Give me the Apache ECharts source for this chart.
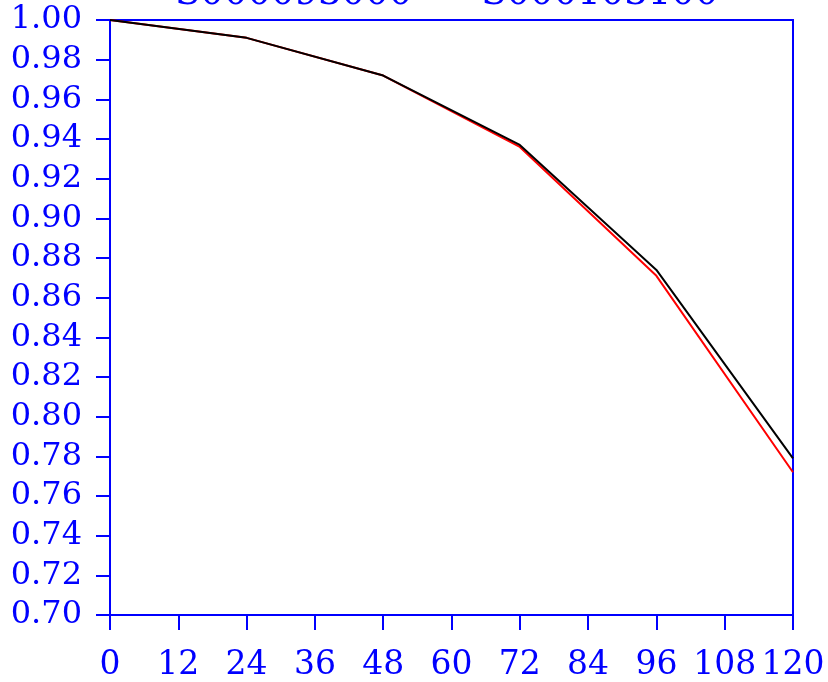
<!DOCTYPE html>
<html>
<head>
<meta charset="utf-8">
<script src="https://cdn.jsdelivr.net/npm/echarts@6/dist/echarts.min.js"></script>
<style>html,body{margin:0;padding:0;background:#fff}#c{width:828px;height:682px}</style>
</head>
<body>
<div id="c"></div>
<script>
const months = [0, 24, 48, 72, 96, 120];
const seriesNames = ['S000093000', 'S000103100'];
const redValues = [1.000, 0.991, 0.972, 0.936, 0.871, 0.772];
const blackValues = [1.000, 0.991, 0.972, 0.937, 0.874, 0.779];
const xTicks = [0, 12, 24, 36, 48, 60, 72, 84, 96, 108, 120];

const blue = '#0000ff';
const font = 'DejaVu Serif';
const chart = echarts.init(document.getElementById('c'), null, {renderer: 'canvas'});
chart.setOption({
  animation: false,
  backgroundColor: '#ffffff',
  legend: {
    top: -29,
    left: 115,
    itemGap: 14,
    itemWidth: 50,
    itemHeight: 14,
    icon: 'path://M0,6L50,6L50,8L0,8Z',
    textStyle: {color: blue, fontFamily: font, fontSize: 37},
    data: seriesNames
  },
  grid: {left: 110, right: 35, top: 20, bottom: 67, show: true, borderColor: blue, borderWidth: 2, backgroundColor: 'transparent'},
  xAxis: {
    type: 'value', min: xTicks[0], max: xTicks[xTicks.length - 1], interval: 12,
    axisLine: {show: true, lineStyle: {color: blue, width: 2}},
    axisTick: {show: true, inside: false, length: 15, lineStyle: {color: blue, width: 2}},
    splitLine: {show: false},
    axisLabel: {color: blue, fontFamily: font, fontSize: 33, margin: 34}
  },
  yAxis: {
    type: 'value', min: 0.70, max: 1.00, interval: 0.02,
    axisLine: {show: true, lineStyle: {color: blue, width: 2}},
    axisTick: {show: true, inside: false, length: 14, lineStyle: {color: blue, width: 2}},
    splitLine: {show: false},
    axisLabel: {color: blue, fontFamily: font, fontSize: 32, margin: 28, formatter: v => v.toFixed(2)}
  },
  series: [
    {name: seriesNames[0], type: 'line', data: months.map((m, i) => [m, redValues[i]]), showSymbol: false, lineStyle: {color: '#ff0000', width: 2}, itemStyle: {color: '#ff0000'}},
    {name: seriesNames[1], type: 'line', data: months.map((m, i) => [m, blackValues[i]]), showSymbol: false, lineStyle: {color: '#000000', width: 2}, itemStyle: {color: '#000000'}}
  ]
});
</script>
</body>
</html>
